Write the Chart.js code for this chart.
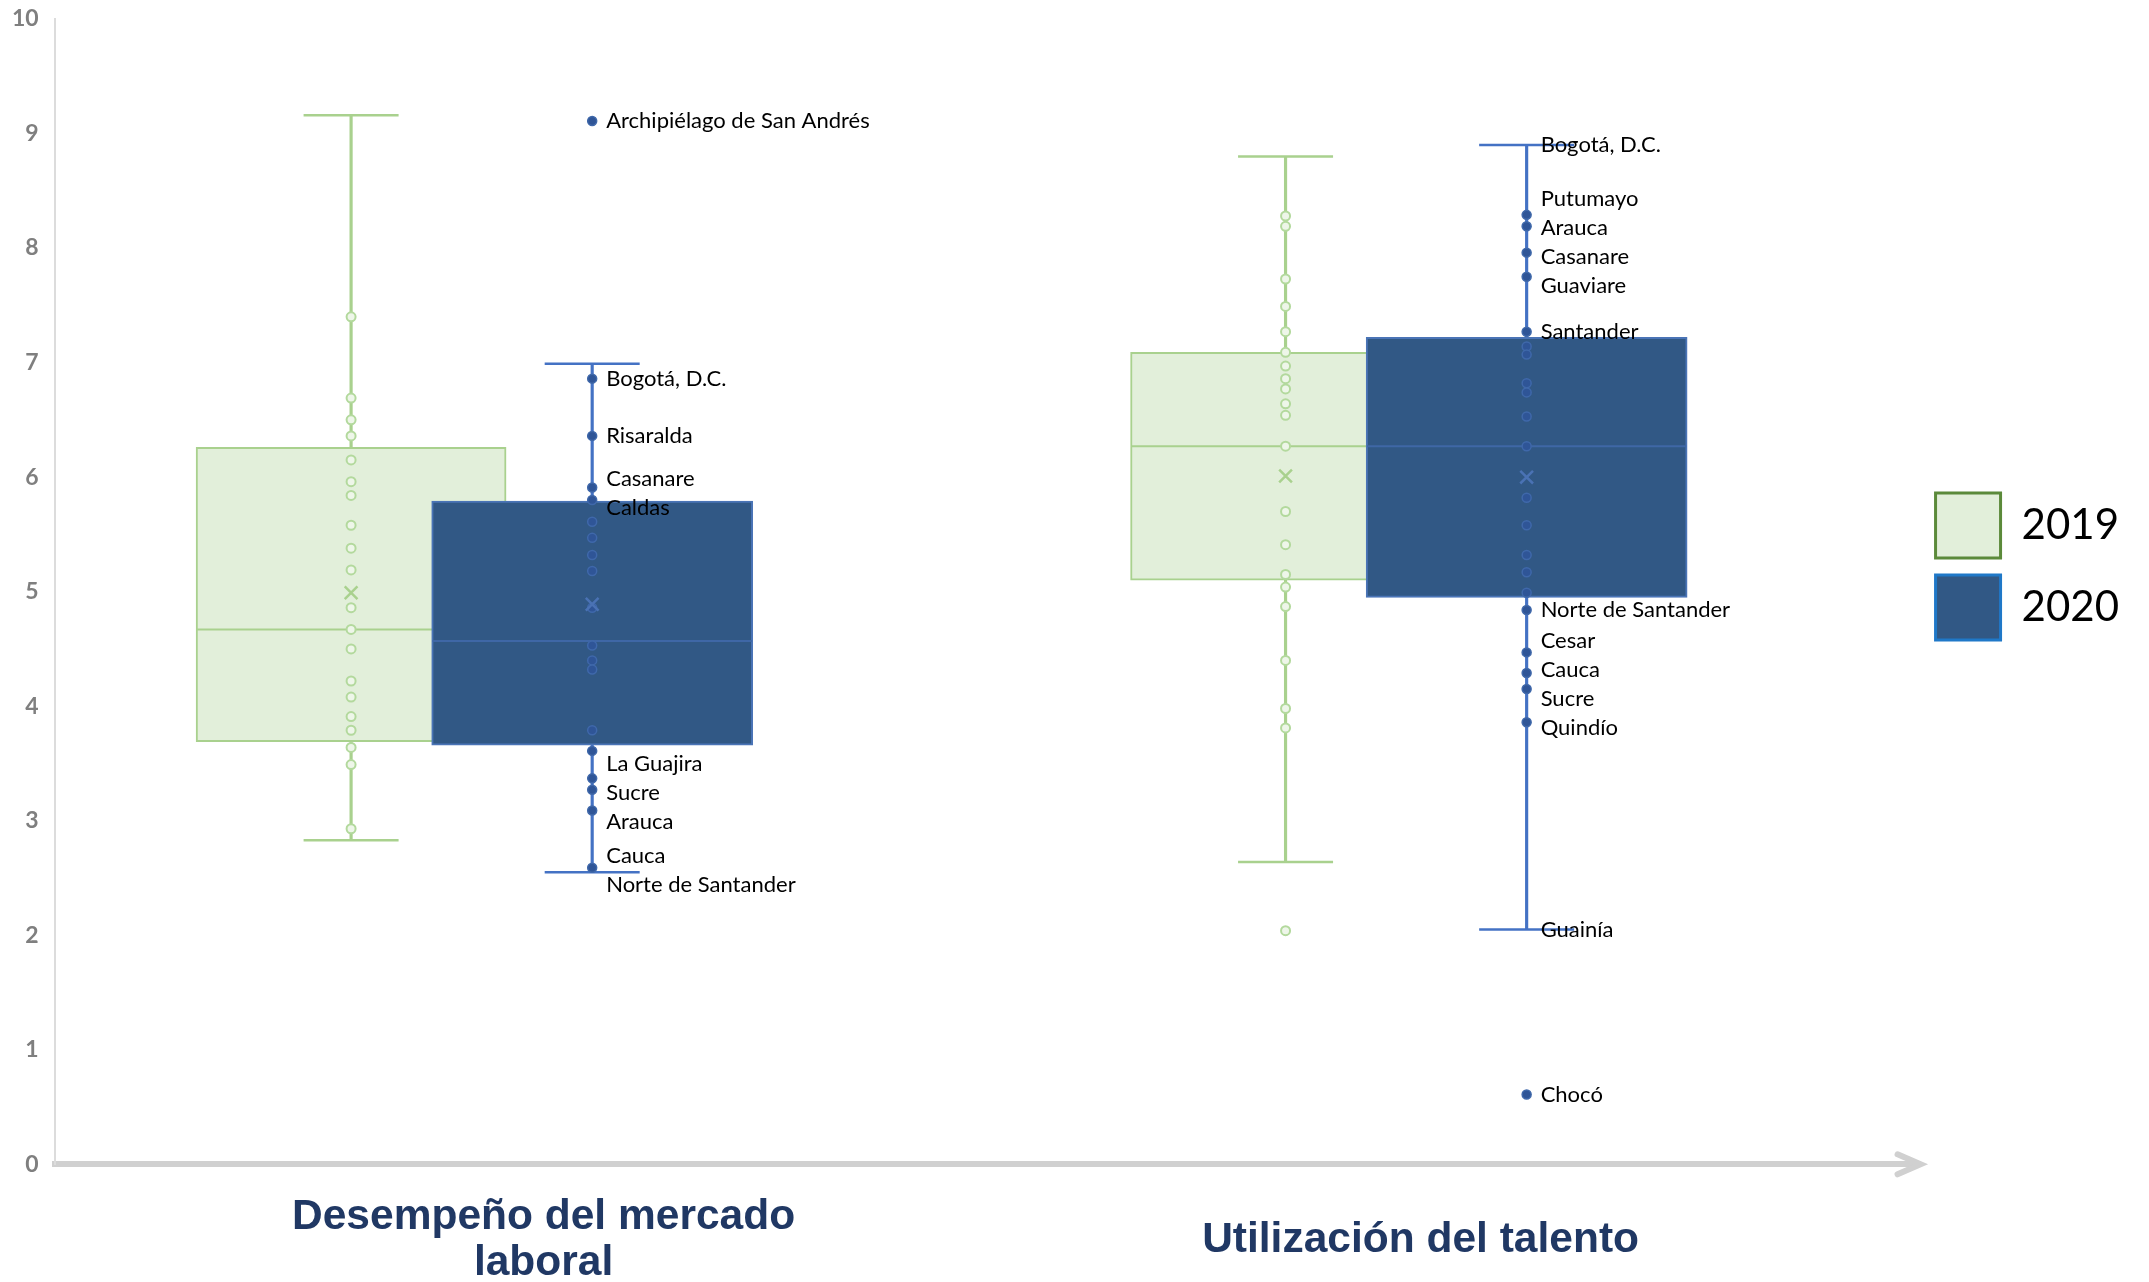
<!DOCTYPE html>
<html><head><meta charset="utf-8">
<script src="https://cdn.jsdelivr.net/npm/chart.js@4.4.1/dist/chart.umd.min.js"></script>
<style>html,body{margin:0;padding:0;background:#fff;} canvas{display:block;}</style>
</head><body>
<canvas id="c" width="2149" height="1282"></canvas>
<script>
// ---------------- DATA ----------------
const categories = [['Desempeño del mercado', 'laboral'], ['Utilización del talento']];
const years = ['2019', '2020'];

const q1_2019 = [3.69, 5.10];
const median_2019 = [4.67, 6.27];
const q3_2019 = [6.26, 7.09];
const min_2019 = [2.83, 2.64];
const max_2019 = [9.16, 8.80];
const mean_2019 = [4.99, 6.01];

const q1_2020 = [3.66, 4.95];
const median_2020 = [4.57, 6.27];
const q3_2020 = [5.79, 7.22];
const min_2020 = [2.55, 2.05];
const max_2020 = [6.99, 8.90];
const mean_2020 = [4.89, 6.00];

const points_2019 = [
  [7.40, 6.69, 6.50, 6.36, 6.15, 5.96, 5.84, 5.58, 5.38, 5.19, 4.86, 4.67, 4.50, 4.22, 4.08, 3.91, 3.79, 3.64, 3.49, 2.93],
  [8.28, 8.19, 7.73, 7.49, 7.27, 7.09, 6.97, 6.86, 6.77, 6.64, 6.54, 6.27, 5.70, 5.41, 5.15, 5.04, 4.87, 4.40, 3.98, 3.81, 2.04]
];
const points_2020 = [
  [9.11, 6.86, 6.36, 5.91, 5.80, 5.61, 5.47, 5.32, 5.18, 4.86, 4.53, 4.40, 4.32, 3.79, 3.61, 3.37, 3.27, 3.09, 2.59, 2.55],
  [8.90, 8.29, 8.19, 7.96, 7.75, 7.27, 7.14, 7.07, 6.82, 6.74, 6.53, 6.27, 5.82, 5.58, 5.32, 5.17, 4.99, 4.84, 4.47, 4.29, 4.15, 3.86, 2.05, 0.61]
];
const names_2020 = [
  ['Archipiélago de San Andrés', 'Bogotá, D.C.', 'Risaralda', 'Casanare', 'Caldas',
   '', '', '', '', '', '', '', '', '', '',
   'La Guajira', 'Sucre', 'Arauca', 'Cauca', 'Norte de Santander'],
  ['Bogotá, D.C.', 'Putumayo', 'Arauca', 'Casanare', 'Guaviare', 'Santander',
   '', '', '', '', '', '', '', '', '', '', '',
   'Norte de Santander', 'Cesar', 'Cauca', 'Sucre', 'Quindío', 'Guainía', 'Chocó']
];
const yTicks = [0, 1, 2, 3, 4, 5, 6, 7, 8, 9, 10];

// ---------------- STYLE / LAYOUT ----------------
const yearOffset = [-0.129, 0.129];          // box offset from category centre (category units)
const labelPos = [0.077, 1.0155];            // where each category title sits on the x scale
const boxWidth = [310, 321];
const capHalf = 47.5;
const S = [
  { fill: '#e2efda', line: '#a9d18e', pointStroke: '#b3d99d', pointFill: '#eef6e9', mean: '#a9d18e', legendStroke: '#5b8a3a' },
  { fill: '#315885', line: '#4472c4', pointStroke: '#3f68aa', pointFill: '#2f5597', mean: '#4a72b4', legendStroke: '#1f78c8' }
];
const stats = [
  { q1: q1_2019, q3: q3_2019, med: median_2019, mn: min_2019, mx: max_2019, mean: mean_2019, pts: points_2019 },
  { q1: q1_2020, q3: q3_2020, med: median_2020, mn: min_2020, mx: max_2020, mean: mean_2020, pts: points_2020 }
];
const X = (c, yi) => c + yearOffset[yi];

const datasets = [];
stats.forEach((s, yi) => {
  const base = yi === 0 ? 12 : 6;
  datasets.push({
    type: 'bar', id: 'whisker' + yi, label: years[yi] + ' whisker', order: base,
    data: s.mn.map((v, c) => ({ x: X(c, yi), y: [v, s.mx[c]] })),
    backgroundColor: S[yi].line, borderWidth: 0, barThickness: 2.5, grouped: false
  });
  datasets.push({
    type: 'bar', id: 'box' + yi, label: years[yi], order: base - 1,
    data: s.q1.map((v, c) => ({ x: X(c, yi), y: [v, s.q3[c]] })),
    backgroundColor: S[yi].fill, borderColor: yi === 0 ? S[yi].line : '#4a74b6', borderWidth: 2,
    borderSkipped: false, barThickness: boxWidth[yi], grouped: false
  });
  datasets.push({
    type: 'scatter', id: 'caps' + yi, label: years[yi] + ' caps', order: base - 2,
    data: s.mn.flatMap((v, c) => [{ x: X(c, yi), y: v }, { x: X(c, yi), y: s.mx[c] }]),
    pointStyle: 'line', pointRadius: capHalf, borderColor: S[yi].line, borderWidth: 2.5
  });
  datasets.push({
    type: 'scatter', id: 'median' + yi, label: years[yi] + ' median', order: base - 3,
    data: s.med.map((v, c) => ({ x: X(c, yi), y: v })),
    pointStyle: 'line', pointRadius: boxWidth[yi] / 2 - 1, borderColor: yi === 0 ? S[yi].line : '#3f67a6', borderWidth: 2
  });
  datasets.push({
    type: 'scatter', id: 'points' + yi, label: years[yi] + ' points', order: base - 4,
    data: s.pts.flatMap((arr, c) => arr.map((v, k) => ({ x: X(c, yi), y: v, cat: c, name: yi === 1 ? names_2020[c][k] : '' }))),
    pointStyle: 'circle',
    // a point lying exactly on a whisker end is hidden by the cap, as in the original
    pointRadius: (ctx) => {
      const r = ctx.raw;
      return r && (r.y === s.mx[r.cat] || r.y === s.mn[r.cat]) ? 0 : 4.5;
    },
    backgroundColor: S[yi].pointFill, borderColor: S[yi].pointStroke, borderWidth: yi === 0 ? 2 : 1.5
  });
  datasets.push({
    type: 'scatter', id: 'mean' + yi, label: years[yi] + ' mean', order: base - 5,
    data: s.mean.map((v, c) => ({ x: X(c, yi), y: v })),
    pointStyle: 'crossRot', pointRadius: 9, borderColor: S[yi].mean, borderWidth: 2.5
  });
});

// label spreading (avoid overlaps) around each point
function spread(items, gap) {
  items.sort((a, b) => a.y - b.y);
  let clusters = items.map(it => ({ items: [it], top: it.y }));
  let merged = true;
  while (merged) {
    merged = false;
    for (let i = 0; i < clusters.length - 1; i++) {
      const a = clusters[i], b = clusters[i + 1];
      const aBottom = a.top + (a.items.length - 1) * gap;
      if (b.top - aBottom < gap) {
        const its = a.items.concat(b.items);
        const mean = its.reduce((s, it) => s + it.y, 0) / its.length;
        clusters.splice(i, 2, { items: its, top: mean - (its.length - 1) * gap / 2 });
        merged = true; break;
      }
    }
  }
  clusters.forEach(cl => cl.items.forEach((it, k) => { it.ly = cl.top + k * gap; }));
}

const labelPlugin = {
  id: 'pointLabels',
  afterDatasetsDraw(chart) {
    const dsIdx = chart.data.datasets.findIndex(d => d.id === 'points1');
    const meta = chart.getDatasetMeta(dsIdx);
    const raw = chart.data.datasets[dsIdx].data;
    const ctx = chart.ctx;
    ctx.save();
    ctx.font = '22px Lato';
    ctx.fillStyle = '#000';
    ctx.textBaseline = 'middle';
    ctx.textAlign = 'left';
    categories.forEach((_, c) => {
      const items = [];
      meta.data.forEach((el, i) => {
        if (raw[i].cat === c && raw[i].name) items.push({ x: el.x, y: el.y, name: raw[i].name });
      });
      spread(items, 29);
      items.forEach(it => ctx.fillText(it.name, it.x + 14, it.ly));
    });
    ctx.restore();
  }
};

const arrowPlugin = {
  id: 'axisArrow',
  afterDraw(chart) {
    const { ctx, chartArea } = chart;
    const x = chartArea.right + 2, y = chartArea.bottom;
    ctx.save();
    ctx.strokeStyle = '#d0d0d0'; ctx.lineWidth = 6; ctx.lineCap = 'round'; ctx.lineJoin = 'miter';
    ctx.beginPath(); ctx.moveTo(x - 23, y - 10); ctx.lineTo(x, y); ctx.lineTo(x - 23, y + 10); ctx.stroke();
    ctx.restore();
  }
};

new Chart(document.getElementById('c'), {
  type: 'scatter',
  data: { datasets },
  options: {
    responsive: false, animation: false, devicePixelRatio: 1,
    layout: { autoPadding: false, padding: { left: -4, top: 19, right: 20, bottom: -81 } },
    plugins: {
      tooltip: { enabled: false },
      legend: {
        position: 'right', align: 'start',
        title: { display: true, text: '', font: { size: 10, lineHeight: 1 }, padding: { top: 447, bottom: 0 } },
        labels: {
          boxWidth: 65, boxHeight: 65, padding: 17, color: '#000',
          font: { family: 'Lato', size: 42 },
          generateLabels: (chart) => years.map((y, i) => ({
            text: y, fillStyle: S[i].fill, strokeStyle: S[i].legendStroke, lineWidth: 3,
            hidden: false, datasetIndex: chart.data.datasets.findIndex(d => d.id === 'box' + i), fontColor: '#000'
          }))
        }
      }
    },
    scales: {
      x: {
        type: 'linear', min: -0.4462, max: 1.5484, offset: false,
        grid: { display: false, drawTicks: false },
        border: { display: true, color: '#d0d0d0', width: 6 },
        afterBuildTicks: (scale) => { scale.ticks = labelPos.map(v => ({ value: v })); },
        afterFit: (scale) => { scale.paddingLeft = 0; scale.paddingRight = 0; },
        ticks: {
          autoSkip: false, maxRotation: 0, minRotation: 0, padding: 53,
          crossAlign: 'center',
          color: '#203864', font: { family: 'Liberation Sans', size: 42.5, weight: 'bold', lineHeight: 1.09 },
          callback: (v) => categories[labelPos.indexOf(v)]
        }
      },
      y: {
        type: 'linear', min: 0, max: 10,
        grid: { display: false, drawTicks: false },
        border: { display: true, color: '#dcdcdc', width: 2 },
        afterBuildTicks: (scale) => { scale.ticks = yTicks.map(v => ({ value: v })); },
        afterFit: (scale) => { scale.paddingTop = 0; scale.paddingBottom = 0; },
        ticks: { padding: 16, color: '#7f7f7f', font: { family: 'Lato', size: 23, weight: 'bold' } }
      }
    }
  },
  plugins: [labelPlugin, arrowPlugin]
});
</script>
</body></html>
